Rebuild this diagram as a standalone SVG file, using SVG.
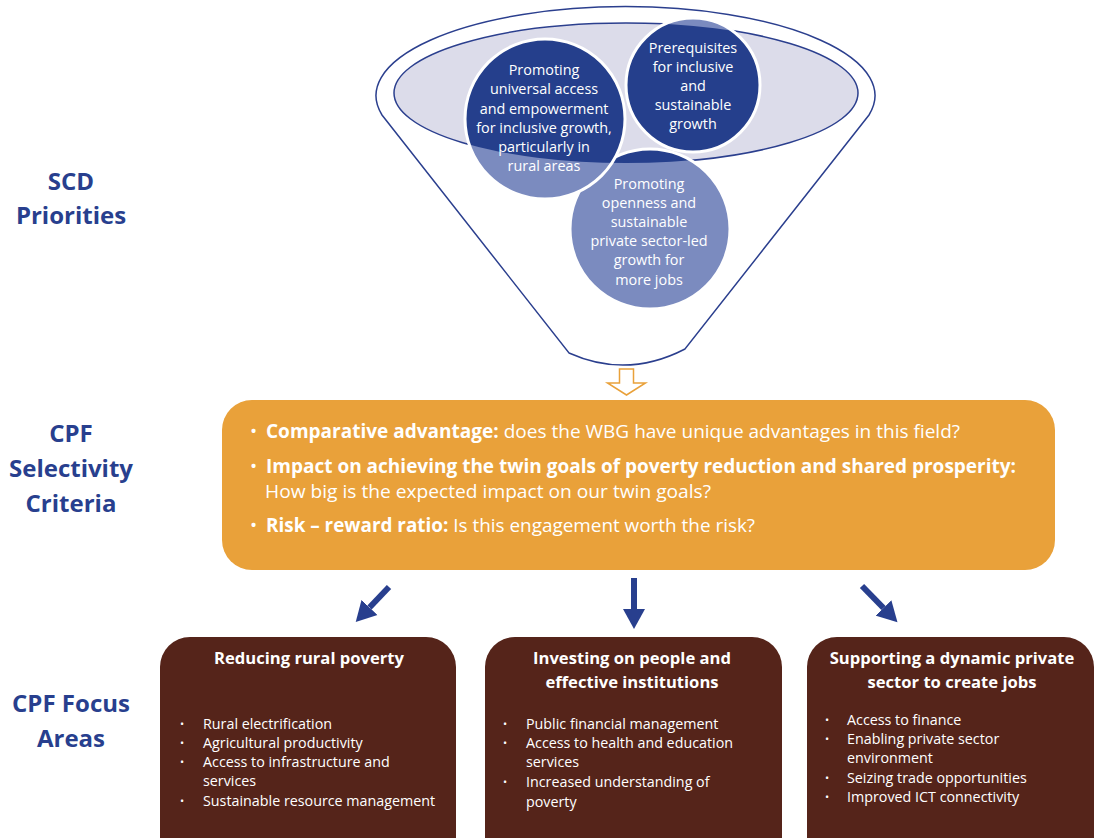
<svg xmlns="http://www.w3.org/2000/svg" width="1095" height="838" viewBox="0 0 1095 838">
<style>
text{font-family:"Open Sans","Noto Sans","Liberation Sans",sans-serif;}
.lbl{fill:#283f8e;font-weight:bold;font-size:24px;text-anchor:middle;}
.ct{fill:#ffffff;font-size:14.4px;text-anchor:middle;}
.crit{fill:#ffffff;font-size:19px;}
.b{font-weight:bold;}
.bt{fill:#ffffff;font-weight:bold;font-size:16.6px;text-anchor:middle;}
.it{fill:#ffffff;font-size:14.3px;}
.dot{fill:#ffffff;font-size:11px;}
.light{fill:#7b8bbf;}
.dark{fill:#253f8c;}
.ring{fill:none;stroke:#ffffff;stroke-width:3;}
.focus{fill:#55241a;}
.conn{stroke:#283f8e;stroke-width:6;fill:none;marker-end:url(#ah);}
</style>
<defs>
<clipPath id="ellClip"><ellipse cx="626" cy="93" rx="232" ry="70"/></clipPath>
<marker id="ah" markerUnits="userSpaceOnUse" markerWidth="21" markerHeight="23" refX="0" refY="11" orient="auto" viewBox="0 0 21 22">
<path d="M0,0 L20,11 L0,22 Z" fill="#283f8e"/>
</marker>
</defs>

<g id="labels">
<text class="lbl" x="71" y="190">SCD</text>
<text class="lbl" x="71" y="224">Priorities</text>
<text class="lbl" x="71" y="442">CPF</text>
<text class="lbl" x="71" y="477">Selectivity</text>
<text class="lbl" x="71" y="512">Criteria</text>
<text class="lbl" x="71" y="712">CPF Focus</text>
<text class="lbl" x="71" y="747">Areas</text>
</g>

<g id="funnel">
<path d="M382,115 A249.5,89 0 1 1 869,115 L685,349 Q627,379 569,353 Z" fill="#ffffff" stroke="#2b3f8e" stroke-width="1.5"/>
<ellipse cx="626" cy="93" rx="232" ry="70" fill="#dcdcea" stroke="#2b3f8e" stroke-width="1.5"/>
</g>

<g id="priority-openness">
<circle class="light" cx="650" cy="229" r="80"/>
<circle class="dark" cx="650" cy="229" r="80" clip-path="url(#ellClip)"/>
<circle class="ring" cx="650" cy="229" r="80"/>
<text class="ct" x="649" y="189">Promoting</text>
<text class="ct" x="649" y="208">openness and</text>
<text class="ct" x="649" y="227">sustainable</text>
<text class="ct" x="649" y="246">private sector-led</text>
<text class="ct" x="649" y="265">growth for</text>
<text class="ct" x="649" y="285">more jobs</text>
</g>

<g id="priority-prerequisites">
<circle class="light" cx="693" cy="85" r="67"/>
<circle class="dark" cx="693" cy="85" r="67" clip-path="url(#ellClip)"/>
<circle class="ring" cx="693" cy="85" r="67"/>
<text class="ct" x="693" y="53">Prerequisites</text>
<text class="ct" x="693" y="72">for inclusive</text>
<text class="ct" x="693" y="91">and</text>
<text class="ct" x="693" y="110">sustainable</text>
<text class="ct" x="693" y="129">growth</text>
</g>

<g id="priority-universal">
<circle class="light" cx="545" cy="119" r="80"/>
<circle class="dark" cx="545" cy="119" r="80" clip-path="url(#ellClip)"/>
<circle class="ring" cx="545" cy="119" r="80"/>
<text class="ct" x="544" y="75">Promoting</text>
<text class="ct" x="544" y="94">universal access</text>
<text class="ct" x="544" y="114">and empowerment</text>
<text class="ct" x="544" y="133">for inclusive growth,</text>
<text class="ct" x="544" y="152">particularly in</text>
<text class="ct" x="544" y="171">rural areas</text>
</g>

<g id="criteria">
<rect x="222" y="400" width="833" height="170" rx="30" ry="30" fill="#e9a13a"/>
<text class="crit" x="250" y="438">•</text>
<text class="crit" x="266" y="438" textLength="694" lengthAdjust="spacingAndGlyphs"><tspan class="b">Comparative advantage:</tspan> does the WBG have unique advantages in this field?</text>
<text class="crit" x="250" y="473">•</text>
<text class="crit" x="266" y="473" textLength="750" lengthAdjust="spacingAndGlyphs"><tspan class="b">Impact on achieving the twin goals of poverty reduction and shared prosperity:</tspan></text>
<text class="crit" x="265" y="498" textLength="446" lengthAdjust="spacingAndGlyphs">How big is the expected impact on our twin goals?</text>
<text class="crit" x="250" y="532">•</text>
<text class="crit" x="266" y="532" textLength="489" lengthAdjust="spacingAndGlyphs"><tspan class="b">Risk – reward ratio:</tspan> Is this engagement worth the risk?</text>
</g>

<g id="focus-rural">
<rect class="focus" x="160" y="637" width="296" height="240" rx="30" ry="30"/>
<text class="bt" x="309" y="664">Reducing rural poverty</text>
<text class="dot" x="180" y="728">•</text><text class="it" x="203" y="729">Rural electrification</text>
<text class="dot" x="180" y="747">•</text><text class="it" x="203" y="748">Agricultural productivity</text>
<text class="dot" x="180" y="766">•</text><text class="it" x="203" y="767">Access to infrastructure and</text>
<text class="it" x="203" y="786">services</text>
<text class="dot" x="180" y="805">•</text><text class="it" x="203" y="806">Sustainable resource management</text>
</g>

<g id="focus-people">
<rect class="focus" x="485" y="637" width="297" height="240" rx="30" ry="30"/>
<text class="bt" x="632" y="664">Investing on people and</text>
<text class="bt" x="632" y="688">effective institutions</text>
<text class="dot" x="503" y="728">•</text><text class="it" x="526" y="729">Public financial management</text>
<text class="dot" x="503" y="747">•</text><text class="it" x="526" y="748">Access to health and education</text>
<text class="it" x="526" y="767">services</text>
<text class="dot" x="503" y="786">•</text><text class="it" x="526" y="787">Increased understanding of</text>
<text class="it" x="526" y="807">poverty</text>
</g>

<g id="focus-private">
<rect class="focus" x="807" y="637" width="287" height="240" rx="30" ry="30"/>
<text class="bt" x="952" y="664">Supporting a dynamic private</text>
<text class="bt" x="952" y="688">sector to create jobs</text>
<text class="dot" x="825" y="724">•</text><text class="it" x="847" y="725">Access to finance</text>
<text class="dot" x="825" y="743">•</text><text class="it" x="847" y="744">Enabling private sector</text>
<text class="it" x="847" y="763">environment</text>
<text class="dot" x="825" y="782">•</text><text class="it" x="847" y="783">Seizing trade opportunities</text>
<text class="dot" x="825" y="801">•</text><text class="it" x="847" y="802">Improved ICT connectivity</text>
</g>

<g id="connectors">
<polygon points="619.5,369 633.5,369 633.5,383 645.5,383 626.5,395 607.5,383 619.5,383" fill="#ffffff" stroke="#e9a13a" stroke-width="1.5" stroke-linejoin="miter"/>
<path class="conn" d="M389,587 L369.5,607.5"/>
<path class="conn" d="M634,578 L634,609"/>
<path class="conn" d="M862,586 L883.5,608"/>
</g>
</svg>
